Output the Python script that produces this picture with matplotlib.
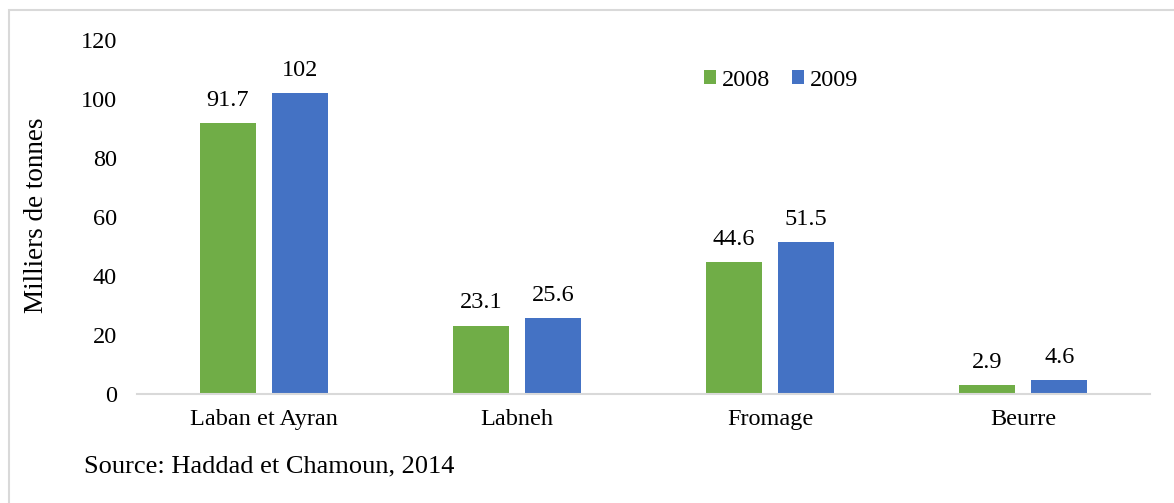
import matplotlib
matplotlib.use("Agg")
import matplotlib.pyplot as plt
from matplotlib.patches import Rectangle
import numpy as np

categories = ["Laban et Ayran", "Labneh", "Fromage", "Beurre"]
series_names = ["2008", "2009"]
values_2008 = [91.7, 23.1, 44.6, 2.9]
values_2009 = [102, 25.6, 51.5, 4.6]
labels_2008 = ["91.7", "23.1", "44.6", "2.9"]
labels_2009 = ["102", "25.6", "51.5", "4.6"]
yticks = [0, 20, 40, 60, 80, 100, 120]

plt.rcParams['font.family'] = ['Liberation Serif', 'DejaVu Serif']

W, H = 1174, 503
fig = plt.figure(figsize=(W/100, H/100), dpi=100)
ax = fig.add_axes([137/W, 1 - 394/H, (1150-137)/W, (394-40)/H])

FS = 17.5
x = np.arange(len(categories))
bw = 0.221
off = 0.142
green = "#70ad47"
blue = "#4472c4"
b1 = ax.bar(x - off, values_2008, bw, color=green, label=series_names[0], zorder=3)
b2 = ax.bar(x + off, values_2009, bw, color=blue, label=series_names[1], zorder=3)

for rect, lab in zip(b1, labels_2008):
    ax.annotate(lab, (rect.get_x() + rect.get_width()/2, rect.get_height()),
                xytext=(0, 9), textcoords="offset points", ha="center", va="bottom", fontsize=FS)
for rect, lab in zip(b2, labels_2009):
    ax.annotate(lab, (rect.get_x() + rect.get_width()/2, rect.get_height()),
                xytext=(0, 9), textcoords="offset points", ha="center", va="bottom", fontsize=FS)

ax.set_xlim(-0.5, 3.5)
ax.set_ylim(0, 120)
ax.set_yticks(yticks)
ax.set_yticklabels([str(t) for t in yticks], fontsize=FS)
ax.set_xticks(x)
ax.set_xticklabels(categories, fontsize=FS)
ax.tick_params(axis='both', length=0)
ax.tick_params(axis='y', pad=14.5)
ax.tick_params(axis='x', pad=11)
for s in ["top", "right", "left"]:
    ax.spines[s].set_visible(False)
ax.spines["bottom"].set_color("#d9d9d9")
ax.spines["bottom"].set_linewidth(1.5)
ax.spines["bottom"].set_zorder(4)

fig.text(37/W, 1 - 215/H, "Milliers de tonnes", rotation=90, ha="center", va="center", fontsize=19.5)
fig.text(84/W, 1 - 466/H, "Source: Haddad et Chamoun, 2014", ha="left", va="center", fontsize=19)

leg = ax.legend(loc="center left", bbox_to_anchor=(704/W, 1 - 80/H), bbox_transform=fig.transFigure,
                ncol=2, frameon=False, fontsize=FS, handlelength=0.48, handleheight=0.48,
                handletextpad=0.25, columnspacing=0.9, borderpad=0, borderaxespad=0)

fig.patches.append(Rectangle((8.5/W, -0.1), 1.2, 1 - 9.5/H + 0.1, transform=fig.transFigure,
                             fill=False, edgecolor="#d9d9d9", linewidth=1.5, zorder=0))

fig.savefig("out.png", dpi=100)
